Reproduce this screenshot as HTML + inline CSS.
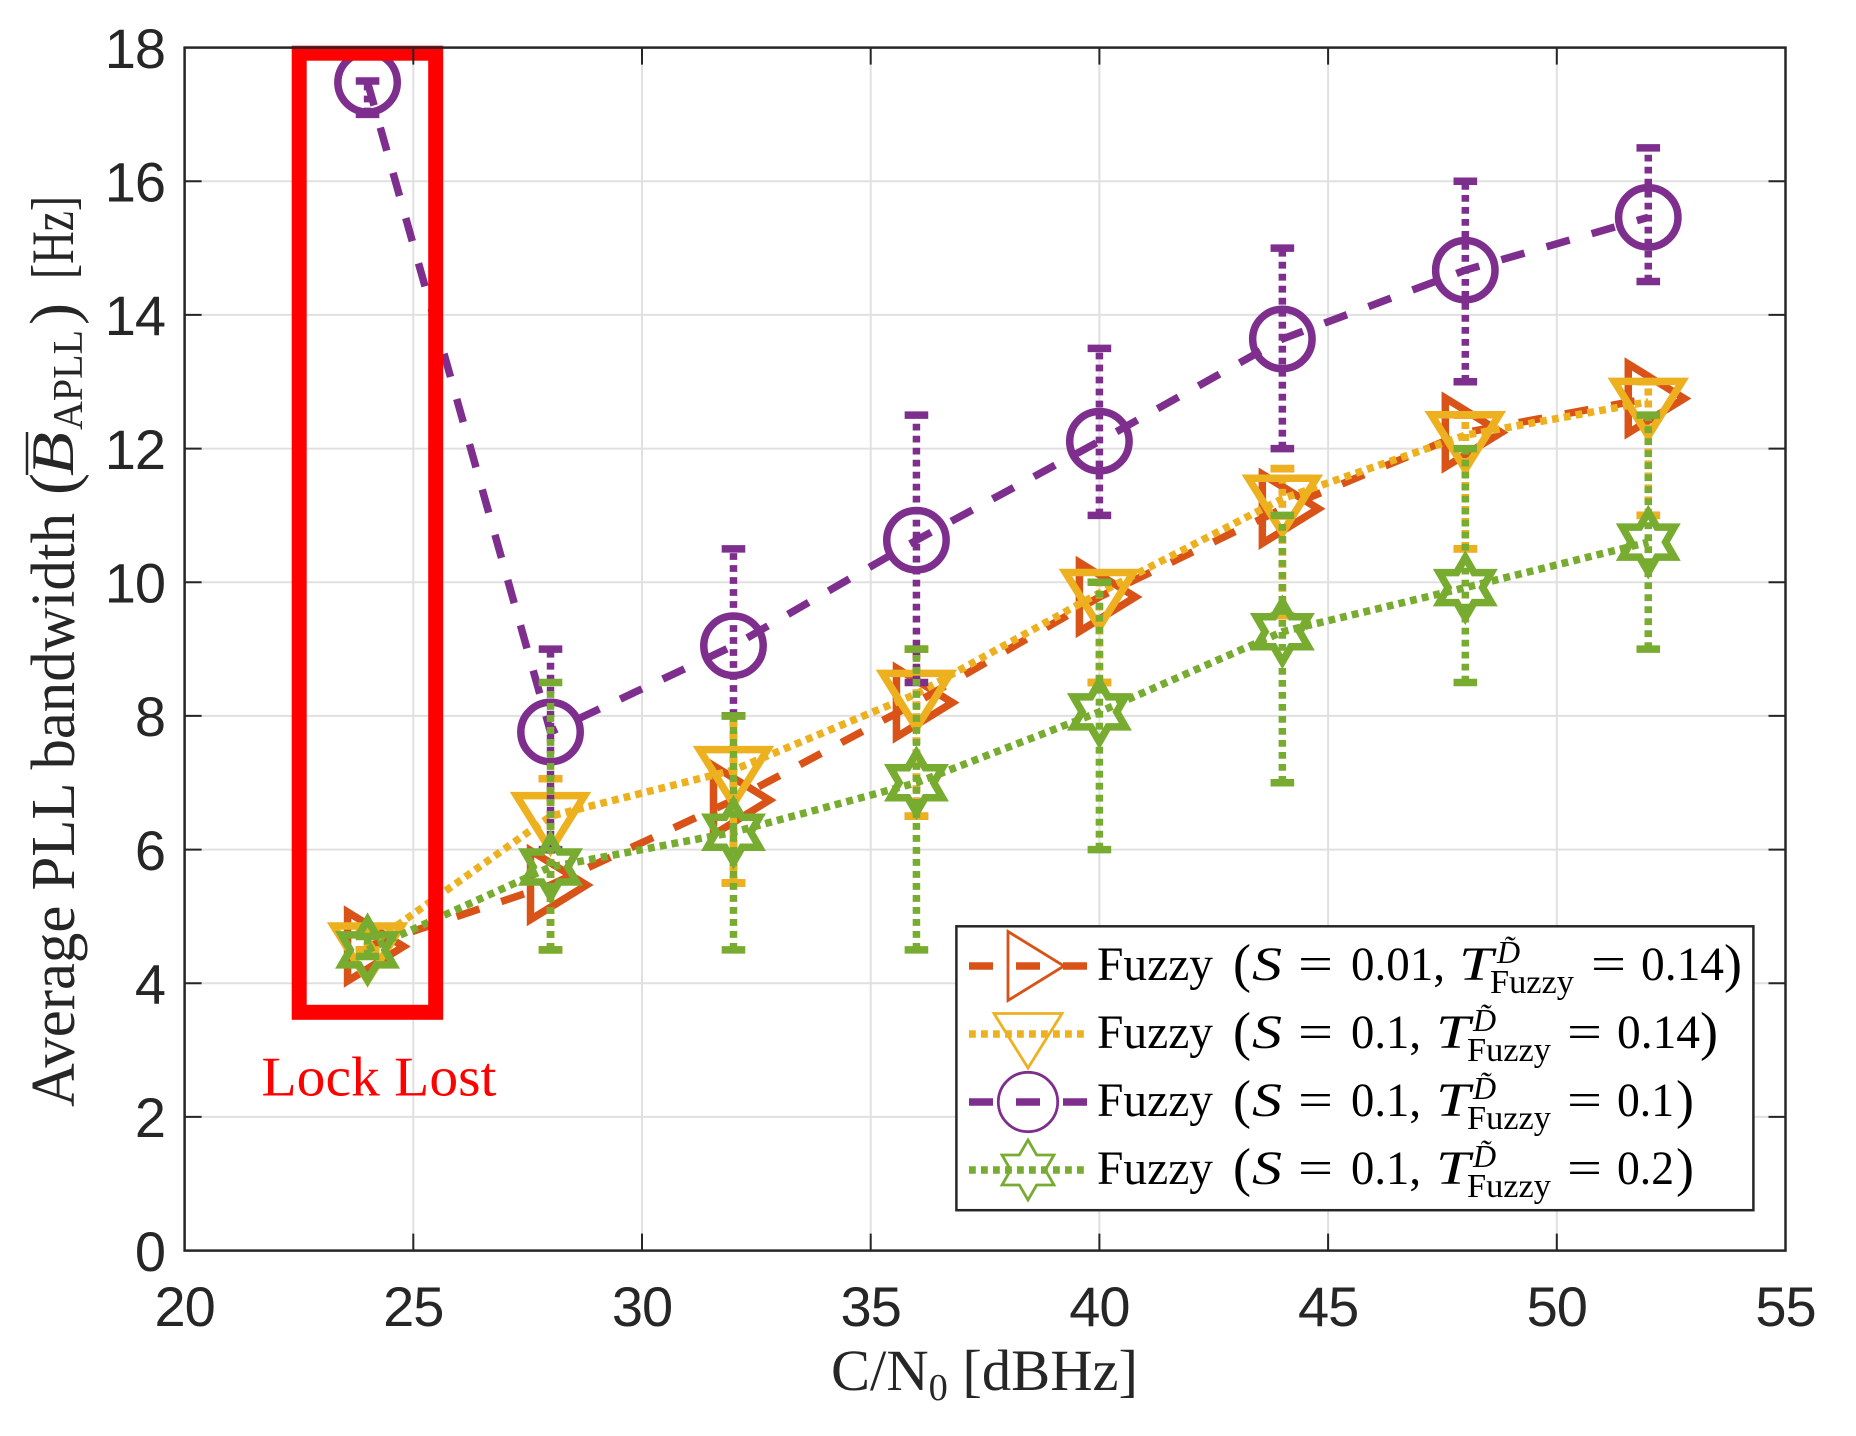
<!DOCTYPE html>
<html lang="en">
<head>
<meta charset="utf-8">
<title>Average PLL bandwidth vs C/N0</title>
<style>
html,body{margin:0;padding:0;background:#fff;}
svg{display:block;}
.serif{font-family:"Liberation Serif",serif;fill:#262626;}
.lg{font-family:"Liberation Serif",serif;fill:#000;font-size:48px;}
.lgp{font-family:"Liberation Serif",serif;fill:#000;font-size:54px;}
.lgi{font-family:"Liberation Serif",serif;fill:#000;font-size:48px;font-style:italic;}
.lgs{font-family:"Liberation Serif",serif;fill:#000;font-size:34px;}
.lgd{font-family:"Liberation Serif",serif;fill:#000;font-size:32px;font-style:italic;}
</style>
</head>
<body>
<svg id="chart" xmlns="http://www.w3.org/2000/svg" width="1856" height="1436" viewBox="0 0 1856 1436">
  <rect x="0" y="0" width="1856" height="1436" fill="#ffffff"/>
  <g id="grid"></g>
  <g id="series"></g>
  <rect x="299.2" y="53.2" width="136.5" height="959.1" fill="none" stroke="#ff0000" stroke-width="15"/>
  <text x="261.5" y="1095.5" font-family="'Liberation Serif',serif" font-size="56" fill="#ff0000" textLength="235" lengthAdjust="spacingAndGlyphs">Lock Lost</text>
  <g id="axes"></g>

  <text class="serif" x="831" y="1390" font-size="58" textLength="307" lengthAdjust="spacingAndGlyphs">C/N<tspan dy="10" font-size="38">0</tspan><tspan dy="-10"> [dBHz]</tspan></text>

  <g>
    <text class="serif" transform="translate(74 1107) rotate(-90)" font-size="62" textLength="594" lengthAdjust="spacingAndGlyphs">Average PLL bandwidth</text>
    <text class="serif" transform="translate(75 495) rotate(-90)" font-size="66">(</text>
    <text class="serif" transform="translate(73 476) rotate(-90)" font-size="60" font-style="italic" textLength="44" lengthAdjust="spacingAndGlyphs">B</text>
    <line x1="27" y1="475" x2="27" y2="432" stroke="#262626" stroke-width="2.5"/>
    <text class="serif" transform="translate(82 430) rotate(-90)" font-size="42" textLength="100" lengthAdjust="spacingAndGlyphs">APLL</text>
    <text class="serif" transform="translate(75 325) rotate(-90)" font-size="66">)</text>
    <text class="serif" transform="translate(73 279) rotate(-90)" font-size="60" textLength="83" lengthAdjust="spacingAndGlyphs">[Hz]</text>
  </g>

  <g>
    <rect x="956.4" y="926.3" width="797" height="283.9" fill="#ffffff" stroke="#262626" stroke-width="2.5"/>
    <g id="legend-handles"></g>

    <g>
      <text class="lg" x="1097" y="980" textLength="116" lengthAdjust="spacingAndGlyphs">Fuzzy</text>
      <text class="lgp" x="1233" y="981.5">(</text>
      <text class="lgi" x="1252" y="980" textLength="30" lengthAdjust="spacingAndGlyphs">S</text>
      <text class="lg" x="1298" y="980" textLength="35" lengthAdjust="spacingAndGlyphs">=</text>
      <text class="lg" x="1351" y="980" textLength="94" lengthAdjust="spacingAndGlyphs">0.01,</text>
      <text class="lgi" x="1459" y="980" textLength="34" lengthAdjust="spacingAndGlyphs">T</text>
      <text class="lgd" x="1497" y="963">D̃</text>
      <text class="lgs" x="1490" y="993" textLength="84" lengthAdjust="spacingAndGlyphs">Fuzzy</text>
      <text class="lg" x="1591" y="980" textLength="35" lengthAdjust="spacingAndGlyphs">=</text>
      <text class="lg" x="1641" y="980" textLength="83" lengthAdjust="spacingAndGlyphs">0.14</text>
      <text class="lgp" x="1724" y="981.5">)</text>
    </g>

    <g>
      <text class="lg" x="1097" y="1048" textLength="116" lengthAdjust="spacingAndGlyphs">Fuzzy</text>
      <text class="lgp" x="1233" y="1049.5">(</text>
      <text class="lgi" x="1252" y="1048" textLength="30" lengthAdjust="spacingAndGlyphs">S</text>
      <text class="lg" x="1298" y="1048" textLength="35" lengthAdjust="spacingAndGlyphs">=</text>
      <text class="lg" x="1351" y="1048" textLength="70" lengthAdjust="spacingAndGlyphs">0.1,</text>
      <text class="lgi" x="1436" y="1048" textLength="34" lengthAdjust="spacingAndGlyphs">T</text>
      <text class="lgd" x="1473" y="1031">D̃</text>
      <text class="lgs" x="1467" y="1061" textLength="84" lengthAdjust="spacingAndGlyphs">Fuzzy</text>
      <text class="lg" x="1567" y="1048" textLength="35" lengthAdjust="spacingAndGlyphs">=</text>
      <text class="lg" x="1617" y="1048" textLength="83" lengthAdjust="spacingAndGlyphs">0.14</text>
      <text class="lgp" x="1700" y="1049.5">)</text>
    </g>

    <g>
      <text class="lg" x="1097" y="1116" textLength="116" lengthAdjust="spacingAndGlyphs">Fuzzy</text>
      <text class="lgp" x="1233" y="1117.5">(</text>
      <text class="lgi" x="1252" y="1116" textLength="30" lengthAdjust="spacingAndGlyphs">S</text>
      <text class="lg" x="1298" y="1116" textLength="35" lengthAdjust="spacingAndGlyphs">=</text>
      <text class="lg" x="1351" y="1116" textLength="70" lengthAdjust="spacingAndGlyphs">0.1,</text>
      <text class="lgi" x="1436" y="1116" textLength="34" lengthAdjust="spacingAndGlyphs">T</text>
      <text class="lgd" x="1473" y="1099">D̃</text>
      <text class="lgs" x="1467" y="1129" textLength="84" lengthAdjust="spacingAndGlyphs">Fuzzy</text>
      <text class="lg" x="1567" y="1116" textLength="35" lengthAdjust="spacingAndGlyphs">=</text>
      <text class="lg" x="1617" y="1116" textLength="57" lengthAdjust="spacingAndGlyphs">0.1</text>
      <text class="lgp" x="1676" y="1117.5">)</text>
    </g>

    <g>
      <text class="lg" x="1097" y="1184" textLength="116" lengthAdjust="spacingAndGlyphs">Fuzzy</text>
      <text class="lgp" x="1233" y="1185.5">(</text>
      <text class="lgi" x="1252" y="1184" textLength="30" lengthAdjust="spacingAndGlyphs">S</text>
      <text class="lg" x="1298" y="1184" textLength="35" lengthAdjust="spacingAndGlyphs">=</text>
      <text class="lg" x="1351" y="1184" textLength="70" lengthAdjust="spacingAndGlyphs">0.1,</text>
      <text class="lgi" x="1436" y="1184" textLength="34" lengthAdjust="spacingAndGlyphs">T</text>
      <text class="lgd" x="1473" y="1167">D̃</text>
      <text class="lgs" x="1467" y="1197" textLength="84" lengthAdjust="spacingAndGlyphs">Fuzzy</text>
      <text class="lg" x="1567" y="1184" textLength="35" lengthAdjust="spacingAndGlyphs">=</text>
      <text class="lg" x="1617" y="1184" textLength="57" lengthAdjust="spacingAndGlyphs">0.2</text>
      <text class="lgp" x="1676" y="1185.5">)</text>
    </g>
  </g>
</svg>

<script>
const xTickLabels = [20, 25, 30, 35, 40, 45, 50, 55];
const yTickLabels = [0, 2, 4, 6, 8, 10, 12, 14, 16, 18];
const cnrCategories = [24, 28, 32, 36, 40, 44, 48, 52];

const redMeans = [4.55, 5.47, 6.74, 8.2, 9.78, 11.1, 12.24, 12.75];
const redUpper = [4.8, 7.06, 8, 9, 10, 11.7, 12.5, 13];
const redLower = [4.5, 4.5, 5.5, 6.5, 8.5, 9.5, 10.5, 11];

const yellowMeans = [4.55, 6.5, 7.19, 8.33, 9.84, 11.25, 12.2, 12.7];
const yellowUpper = [4.8, 7.06, 8, 9, 10, 11.7, 12.5, 13];
const yellowLower = [4.5, 4.5, 5.5, 6.5, 8.5, 9.5, 10.5, 11];

const purpleMeans = [17.48, 7.76, 9.05, 10.63, 12.11, 13.64, 14.67, 15.46];
const purpleUpper = [17.5, 9, 10.5, 12.5, 13.5, 15, 16, 16.5];
const purpleLower = [17, 6, 8, 8.5, 11, 12, 13, 14.5];

const greenMeans = [4.5, 5.74, 6.26, 7, 8.06, 9.26, 9.92, 10.6];
const greenUpper = [4.7, 8.5, 8, 9, 10, 11, 12, 12.5];
const greenLower = [4.4, 4.5, 4.5, 4.5, 6, 7, 8.5, 9];

const NS = 'http://www.w3.org/2000/svg';
const xMin = 20, xMax = 55, yMin = 0, yMax = 18;
const plotL = 184.6, plotR = 1785.5, plotT = 47.6, plotB = 1250.6;
function xScale(v) { return plotL + (v - xMin) / (xMax - xMin) * (plotR - plotL); }
function yScale(v) { return plotB - (v - yMin) / (yMax - yMin) * (plotB - plotT); }

function make(tag, attrs, parent) {
  const el = document.createElementNS(NS, tag);
  for (const k in attrs) el.setAttribute(k, attrs[k]);
  parent.appendChild(el);
  return el;
}

const gridG = document.getElementById('grid');
const axesG = document.getElementById('axes');
const seriesG = document.getElementById('series');
const handlesG = document.getElementById('legend-handles');
const AXC = '#262626';
const TICK = 17;

xTickLabels.forEach(function (t) {
  const x = xScale(t);
  if (t !== xMin && t !== xMax) {
    const g = make('line', {x1: x, y1: plotT, x2: x, y2: plotB, stroke: '#e0e0e0', 'stroke-width': 2}, gridG);
    
    
    const a = make('line', {x1: x, y1: plotB, x2: x, y2: plotB - TICK, stroke: AXC, 'stroke-width': 2}, axesG);
    
    
    const b = make('line', {x1: x, y1: plotT, x2: x, y2: plotT + TICK, stroke: AXC, 'stroke-width': 2}, axesG);
    
    
  }
  const lab = make('text', {x: x, y: 1326, 'text-anchor': 'middle', 'font-family': '"Liberation Sans",sans-serif', 'font-size': 56, 'letter-spacing': -1, fill: AXC}, axesG);
  lab.textContent = t;
  
  
});

yTickLabels.forEach(function (t) {
  const y = yScale(t);
  if (t !== yMin && t !== yMax) {
    const g = make('line', {x1: plotL, y1: y, x2: plotR, y2: y, stroke: '#e0e0e0', 'stroke-width': 2}, gridG);
    
    
    const a = make('line', {x1: plotL, y1: y, x2: plotL + TICK, y2: y, stroke: AXC, 'stroke-width': 2}, axesG);
    
    
    const b = make('line', {x1: plotR, y1: y, x2: plotR - TICK, y2: y, stroke: AXC, 'stroke-width': 2}, axesG);
    
    
  }
  const lab = make('text', {x: 165, y: y + 20.3, 'text-anchor': 'end', 'font-family': '"Liberation Sans",sans-serif', 'font-size': 56, 'letter-spacing': -1, fill: AXC}, axesG);
  lab.textContent = t;
  
  
});

const frame = make('rect', {x: plotL, y: plotT, width: plotR - plotL, height: plotB - plotT, fill: 'none', stroke: AXC, 'stroke-width': 2.5}, axesG);



/* Marker outlines, relative to a centre point */
function markerShape(kind, cx, cy, color, sw, parent) {
  if (kind === 'circle') {
    return make('circle', {cx: cx, cy: cy, r: 29.7, fill: 'none', stroke: color, 'stroke-width': sw}, parent);
  }
  let pts = [];
  if (kind === 'right') {
    pts = [[-20, -34.5], [36, 0], [-20, 34.5]];
  } else if (kind === 'down') {
    pts = [[-34, -20.5], [34, -20.5], [0, 34]];
  } else {
    const R = 30, r = R / Math.sqrt(3);
    for (let i = 0; i < 12; i++) {
      const a = (-90 + i * 30) * Math.PI / 180;
      const rad = i % 2 === 0 ? R : r;
      pts.push([rad * Math.cos(a), rad * Math.sin(a)]);
    }
  }
  const s = pts.map(function (p) { return (cx + p[0]).toFixed(2) + ',' + (cy + p[1]).toFixed(2); }).join(' ');
  return make('polygon', {points: s, fill: 'none', stroke: color, 'stroke-width': sw, 'stroke-linejoin': 'miter', 'stroke-miterlimit': 10}, parent);
}

const DASHED = '24 23';
const DOTTED = '6.8 5.2';

function drawSeries(means, upper, lower, color, dash, kind, key) {
  const g = make('g', {}, seriesG);
  
  

  const pts = cnrCategories.map(function (c, i) { return xScale(c).toFixed(2) + ',' + yScale(means[i]).toFixed(2); }).join(' ');
  const line = make('polyline', {points: pts, fill: 'none', stroke: color, 'stroke-width': 7.5, 'stroke-dasharray': dash}, g);
  
  

  cnrCategories.forEach(function (c, i) {
    const x = xScale(c), yU = yScale(upper[i]), yL = yScale(lower[i]), capHalf = 11.8;
    const bar = make('line', {x1: x, y1: yL, x2: x, y2: yU, stroke: color, 'stroke-width': 7.5, 'stroke-dasharray': DOTTED}, g);
    
    
    const capU = make('line', {x1: x - capHalf, y1: yU, x2: x + capHalf, y2: yU, stroke: color, 'stroke-width': 7.5}, g);
    
    
    const capL = make('line', {x1: x - capHalf, y1: yL, x2: x + capHalf, y2: yL, stroke: color, 'stroke-width': 7.5}, g);
    
    
  });

  cnrCategories.forEach(function (c, i) {
    const m = markerShape(kind, xScale(c), yScale(means[i]), color, 7.5, g);
    
    
  });
}

drawSeries(redMeans, redUpper, redLower, '#D95319', DASHED, 'right', 'red');
drawSeries(yellowMeans, yellowUpper, yellowLower, '#EDB120', DOTTED, 'down', 'yellow');
drawSeries(purpleMeans, purpleUpper, purpleLower, '#7E2F8E', DASHED, 'circle', 'purple');
drawSeries(greenMeans, greenUpper, greenLower, '#77AC30', DOTTED, 'star', 'green');

function legendHandle(cy, color, dash, kind, key) {
  const l = make('line', {x1: 969, y1: cy, x2: 1087, y2: cy, stroke: color, 'stroke-width': 7.5, 'stroke-dasharray': dash}, handlesG);
  
  
  const m = markerShape(kind, 1028, cy, color, 2.8, handlesG);
  
  
}
legendHandle(966, '#D95319', DASHED, 'right', 'red');
legendHandle(1034, '#EDB120', DOTTED, 'down', 'yellow');
legendHandle(1102, '#7E2F8E', DASHED, 'circle', 'purple');
legendHandle(1170, '#77AC30', DOTTED, 'star', 'green');
</script>
</body>
</html>
